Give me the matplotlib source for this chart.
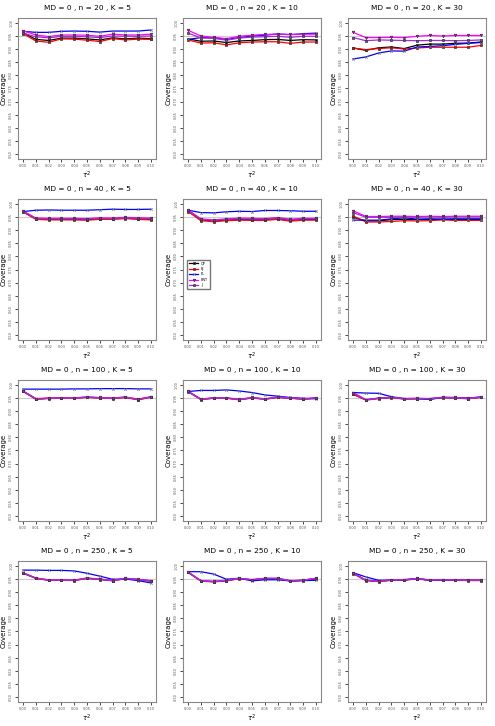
import numpy as np
import matplotlib.pyplot as plt

# tau^2 grid
tau2 = [0.00, 0.01, 0.02, 0.03, 0.04, 0.05, 0.06, 0.07, 0.08, 0.09, 0.10]
methods = ["QP", "BJ", "PL", "BNT", "J"]
colors = ["black", "red", "blue", "magenta", "#9933cc"]
row_n = [20, 40, 100, 250]
col_K = [5, 10, 30]

# coverage, per panel: (n, K) -> per-method lists
# n = 20
cov_20_5 = {
    "QP":  [0.964, 0.938, 0.934, 0.943, 0.943, 0.940, 0.936, 0.944, 0.940, 0.943, 0.941],
    "BJ":  [0.960, 0.932, 0.927, 0.940, 0.939, 0.935, 0.930, 0.941, 0.936, 0.939, 0.938],
    "PL":  [0.969, 0.965, 0.965, 0.969, 0.970, 0.969, 0.966, 0.970, 0.970, 0.970, 0.974],
    "BNT": [0.971, 0.955, 0.949, 0.955, 0.955, 0.954, 0.950, 0.958, 0.955, 0.955, 0.958],
    "J":   [0.962, 0.948, 0.944, 0.950, 0.950, 0.948, 0.945, 0.951, 0.950, 0.950, 0.951],
}
cov_20_10 = {
    "QP":  [0.940, 0.931, 0.932, 0.926, 0.932, 0.934, 0.937, 0.938, 0.934, 0.937, 0.936],
    "BJ":  [0.936, 0.924, 0.925, 0.917, 0.925, 0.928, 0.929, 0.929, 0.923, 0.928, 0.928],
    "PL":  [0.938, 0.945, 0.944, 0.938, 0.945, 0.951, 0.954, 0.959, 0.956, 0.960, 0.962],
    "BNT": [0.973, 0.951, 0.946, 0.941, 0.950, 0.954, 0.957, 0.958, 0.957, 0.958, 0.958],
    "J":   [0.962, 0.944, 0.942, 0.935, 0.943, 0.947, 0.948, 0.950, 0.946, 0.950, 0.950],
}
cov_20_30 = {
    "QP":  [0.905, 0.896, 0.906, 0.909, 0.903, 0.916, 0.920, 0.920, 0.923, 0.924, 0.928],
    "BJ":  [0.905, 0.899, 0.903, 0.906, 0.901, 0.905, 0.908, 0.908, 0.908, 0.908, 0.915],
    "PL":  [0.863, 0.871, 0.886, 0.894, 0.893, 0.909, 0.911, 0.914, 0.919, 0.923, 0.926],
    "BNT": [0.965, 0.945, 0.945, 0.946, 0.945, 0.950, 0.953, 0.951, 0.953, 0.953, 0.953],
    "J":   [0.945, 0.933, 0.936, 0.935, 0.934, 0.933, 0.934, 0.934, 0.933, 0.934, 0.936],
}
# n = 40
cov_40_5 = {
    "QP":  [0.972, 0.944, 0.942, 0.942, 0.942, 0.941, 0.944, 0.944, 0.947, 0.944, 0.942],
    "BJ":  [0.970, 0.942, 0.940, 0.940, 0.940, 0.939, 0.942, 0.942, 0.945, 0.942, 0.940],
    "PL":  [0.972, 0.977, 0.978, 0.977, 0.977, 0.977, 0.979, 0.981, 0.980, 0.980, 0.981],
    "BNT": [0.974, 0.947, 0.946, 0.946, 0.946, 0.945, 0.948, 0.947, 0.950, 0.948, 0.947],
    "J":   [0.973, 0.945, 0.944, 0.944, 0.944, 0.943, 0.946, 0.945, 0.948, 0.946, 0.945],
}
cov_40_10 = {
    "QP":  [0.975, 0.940, 0.936, 0.940, 0.942, 0.941, 0.941, 0.945, 0.938, 0.942, 0.942],
    "BJ":  [0.972, 0.937, 0.933, 0.937, 0.939, 0.938, 0.938, 0.942, 0.935, 0.939, 0.939],
    "PL":  [0.977, 0.968, 0.967, 0.971, 0.973, 0.972, 0.976, 0.976, 0.975, 0.973, 0.973],
    "BNT": [0.978, 0.944, 0.940, 0.944, 0.947, 0.946, 0.945, 0.949, 0.943, 0.946, 0.946],
    "J":   [0.976, 0.942, 0.938, 0.942, 0.944, 0.943, 0.943, 0.947, 0.940, 0.944, 0.944],
}
cov_40_30 = {
    "QP":  [0.950, 0.936, 0.936, 0.941, 0.942, 0.941, 0.942, 0.942, 0.942, 0.942, 0.942],
    "BJ":  [0.955, 0.932, 0.932, 0.934, 0.937, 0.936, 0.937, 0.940, 0.938, 0.938, 0.938],
    "PL":  [0.939, 0.939, 0.939, 0.944, 0.948, 0.943, 0.944, 0.943, 0.944, 0.944, 0.944],
    "BNT": [0.975, 0.953, 0.953, 0.954, 0.954, 0.953, 0.954, 0.953, 0.954, 0.954, 0.954],
    "J":   [0.968, 0.950, 0.950, 0.950, 0.951, 0.950, 0.951, 0.950, 0.951, 0.951, 0.951],
}
# n = 100
cov_100_5 = {
    "QP":  [0.977, 0.947, 0.950, 0.951, 0.951, 0.954, 0.952, 0.950, 0.954, 0.945, 0.955],
    "BJ":  [0.976, 0.946, 0.949, 0.950, 0.950, 0.953, 0.951, 0.949, 0.953, 0.944, 0.954],
    "PL":  [0.985, 0.985, 0.985, 0.985, 0.986, 0.986, 0.987, 0.987, 0.987, 0.986, 0.986],
    "BNT": [0.978, 0.949, 0.951, 0.952, 0.952, 0.955, 0.953, 0.951, 0.955, 0.947, 0.956],
    "J":   [0.977, 0.948, 0.950, 0.951, 0.951, 0.954, 0.952, 0.950, 0.954, 0.946, 0.955],
}
cov_100_10 = {
    "QP":  [0.976, 0.946, 0.951, 0.951, 0.945, 0.952, 0.947, 0.954, 0.951, 0.947, 0.951],
    "BJ":  [0.975, 0.945, 0.950, 0.950, 0.944, 0.951, 0.946, 0.953, 0.950, 0.946, 0.950],
    "PL":  [0.976, 0.980, 0.980, 0.982, 0.978, 0.972, 0.963, 0.958, 0.953, 0.950, 0.948],
    "BNT": [0.977, 0.947, 0.952, 0.952, 0.946, 0.953, 0.948, 0.955, 0.952, 0.948, 0.952],
    "J":   [0.976, 0.946, 0.951, 0.951, 0.945, 0.952, 0.947, 0.954, 0.951, 0.947, 0.951],
}
cov_100_30 = {
    "QP":  [0.966, 0.944, 0.950, 0.953, 0.948, 0.949, 0.948, 0.953, 0.952, 0.949, 0.954],
    "BJ":  [0.965, 0.943, 0.949, 0.952, 0.947, 0.948, 0.947, 0.952, 0.951, 0.948, 0.953],
    "PL":  [0.972, 0.970, 0.969, 0.956, 0.949, 0.949, 0.946, 0.953, 0.953, 0.951, 0.955],
    "BNT": [0.972, 0.945, 0.951, 0.954, 0.949, 0.950, 0.949, 0.954, 0.953, 0.950, 0.955],
    "J":   [0.969, 0.944, 0.950, 0.953, 0.948, 0.949, 0.948, 0.953, 0.952, 0.949, 0.954],
}
# n = 250
cov_250_5 = {
    "QP":  [0.974, 0.954, 0.947, 0.947, 0.946, 0.954, 0.950, 0.945, 0.953, 0.949, 0.944],
    "BJ":  [0.973, 0.953, 0.946, 0.946, 0.945, 0.953, 0.949, 0.944, 0.952, 0.948, 0.943],
    "PL":  [0.985, 0.985, 0.984, 0.984, 0.982, 0.973, 0.962, 0.950, 0.951, 0.945, 0.936],
    "BNT": [0.975, 0.955, 0.948, 0.948, 0.947, 0.955, 0.951, 0.946, 0.954, 0.950, 0.945],
    "J":   [0.974, 0.954, 0.947, 0.947, 0.946, 0.954, 0.950, 0.945, 0.953, 0.949, 0.944],
}
cov_250_10 = {
    "QP":  [0.977, 0.944, 0.941, 0.945, 0.953, 0.948, 0.953, 0.953, 0.944, 0.946, 0.953],
    "BJ":  [0.976, 0.943, 0.940, 0.944, 0.952, 0.947, 0.952, 0.952, 0.943, 0.945, 0.952],
    "PL":  [0.979, 0.979, 0.970, 0.950, 0.954, 0.944, 0.948, 0.948, 0.944, 0.945, 0.946],
    "BNT": [0.978, 0.945, 0.942, 0.946, 0.954, 0.949, 0.954, 0.954, 0.945, 0.947, 0.954],
    "J":   [0.977, 0.944, 0.941, 0.945, 0.953, 0.948, 0.953, 0.953, 0.944, 0.946, 0.953],
}
cov_250_30 = {
    "QP":  [0.973, 0.946, 0.942, 0.947, 0.948, 0.952, 0.947, 0.948, 0.947, 0.946, 0.946],
    "BJ":  [0.972, 0.945, 0.941, 0.946, 0.947, 0.951, 0.946, 0.947, 0.946, 0.945, 0.945],
    "PL":  [0.975, 0.959, 0.946, 0.947, 0.947, 0.953, 0.946, 0.947, 0.947, 0.946, 0.946],
    "BNT": [0.974, 0.947, 0.943, 0.948, 0.949, 0.953, 0.948, 0.949, 0.948, 0.947, 0.947],
    "J":   [0.973, 0.946, 0.942, 0.947, 0.948, 0.952, 0.947, 0.948, 0.947, 0.946, 0.946],
}

panels = [[cov_20_5, cov_20_10, cov_20_30],
          [cov_40_5, cov_40_10, cov_40_30],
          [cov_100_5, cov_100_10, cov_100_30],
          [cov_250_5, cov_250_10, cov_250_30]]

yticks = np.arange(0.50, 1.001, 0.05)
markers = ["s", "s", "x", "v", "s"]

fig = plt.figure(figsize=(4.95, 7.26), dpi=100)
W, H = 495.0, 726.0
lefts = [18, 183, 348]
width = 138
tops = [18, 199, 380, 561]
height = 141

for r in range(4):
    for c in range(3):
        ax = fig.add_axes([lefts[c] / W, 1 - (tops[r] + height) / H, width / W, height / H])
        d = panels[r][c]
        ax.axhline(0.95, color="#cccccc", lw=0.8, zorder=0)
        for m, col, mk in zip(methods, colors, markers):
            ax.plot(tau2, d[m], color=col, lw=0.9, marker=mk, ms=1.8,
                    mec="#333333" if col != "blue" else "#777777", mfc=col, mew=0.5, label=m)
        ax.set_xlim(-0.004, 0.104)
        ax.set_ylim(0.48, 1.02)
        ax.set_xticks(tau2)
        ax.set_xticklabels(["%.2f" % t for t in tau2], fontsize=2.5, color="#555555")
        ax.set_yticks(yticks)
        ax.set_yticklabels(["%.2f" % t for t in yticks], fontsize=2.5, color="#555555",
                           rotation=90, va="center")
        ax.tick_params(length=2, width=0.5, pad=1.5)
        for s in ax.spines.values():
            s.set_color("#888888")
            s.set_linewidth(0.8)
        ax.set_title("MD = 0 , n = %d , K = %d" % (row_n[r], col_K[c]), fontsize=5.3, pad=6)
        ax.set_xlabel(r"$\tau^2$", fontsize=5, labelpad=1)
        ax.set_ylabel("Coverage", fontsize=5, labelpad=2)
        if r == 1 and c == 1:
            ax.legend(loc="upper left", bbox_to_anchor=(0.02, 0.58), fontsize=2.5,
                      frameon=True, fancybox=False, edgecolor="#555555",
                      handlelength=2.5, borderpad=0.5, labelspacing=0.4)

fig.savefig("out.png", dpi=100)
